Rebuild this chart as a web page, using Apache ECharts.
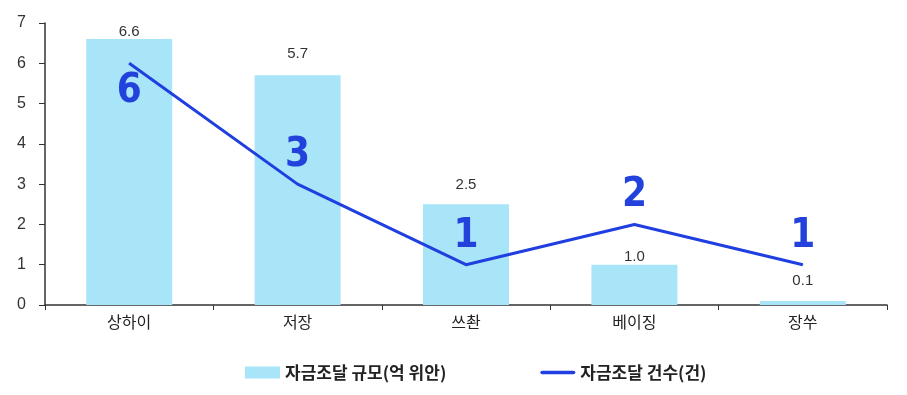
<!DOCTYPE html>
<html><head><meta charset="utf-8">
<script src="https://cdn.jsdelivr.net/npm/echarts@6/dist/echarts.min.js"></script>
<style>html,body{margin:0;padding:0;background:#fff}#c{width:907px;height:395px}</style>
</head><body><div id="c"></div>
<script>
const categories = ['상하이','저장','쓰촨','베이징','장쑤'];
const fundingScale = [6.6, 5.7, 2.5, 1.0, 0.1];
const fundingCount = [6, 3, 1, 2, 1];
const countLabelPos = ['bottom','top','top','top','top'];
const barLabelGap = [0, 14, 12, 0, 13];
const yTicks = [0,1,2,3,4,5,6,7];

const chart = echarts.init(document.getElementById('c'));
chart.setOption({
  animation:false,
  backgroundColor:'#fff',
  grid:{left:45,right:20,top:23,bottom:90},
  legend:{
    bottom:9, left:240, itemGap:94, itemWidth:35, itemHeight:12,
    textStyle:{fontSize:17,fontWeight:'bold',color:'#222',fontFamily:'Noto Sans CJK KR'},
    data:[{name:'자금조달 규모(억 위안)',icon:'rect'},
          {name:'자금조달 건수(건)',icon:'path://M2,0 H38 A2,2 0 0 1 38,4 H2 A2,2 0 0 1 2,0 Z'}]
  },
  xAxis:{
    type:'category', data:categories,
    axisLine:{lineStyle:{color:'#333',width:1.5}},
    axisTick:{show:true,length:5,lineStyle:{color:'#333'}},
    axisLabel:{fontSize:16,color:'#222',fontFamily:'Noto Sans CJK KR',margin:9}
  },
  yAxis:{
    type:'value', min:yTicks[0], max:yTicks[yTicks.length-1], interval:1,
    axisLine:{show:true,lineStyle:{color:'#333',width:1.5}},
    axisTick:{show:true,length:6,lineStyle:{color:'#333'}},
    splitLine:{show:false},
    axisLabel:{fontSize:16,color:'#333',margin:19,fontFamily:'Liberation Sans'}
  },
  series:[
    {name:'자금조달 규모(억 위안)', type:'bar', barWidth:86,
     data:fundingScale.map((v,i)=>({value:v,label:{distance:barLabelGap[i]}})),
     itemStyle:{color:'#a9e5f8'},
     label:{show:true,position:'top',fontSize:15,color:'#333',fontFamily:'Liberation Sans',
       formatter:p=>Number(p.value).toFixed(1)}},
    {name:'자금조달 건수(건)', type:'line',
     data:fundingCount.map((v,i)=>({value:v,label:{position:countLabelPos[i]}})),
     symbol:'circle', symbolSize:1, showSymbol:true,
     lineStyle:{color:'#1f3fe0',width:3}, itemStyle:{color:'#1f3fe0'},
     label:{show:true,fontSize:40,fontWeight:'bold',color:'#2342dc',distance:8,
       fontFamily:'DejaVu Sans Condensed'}}
  ]
});
</script></body></html>
